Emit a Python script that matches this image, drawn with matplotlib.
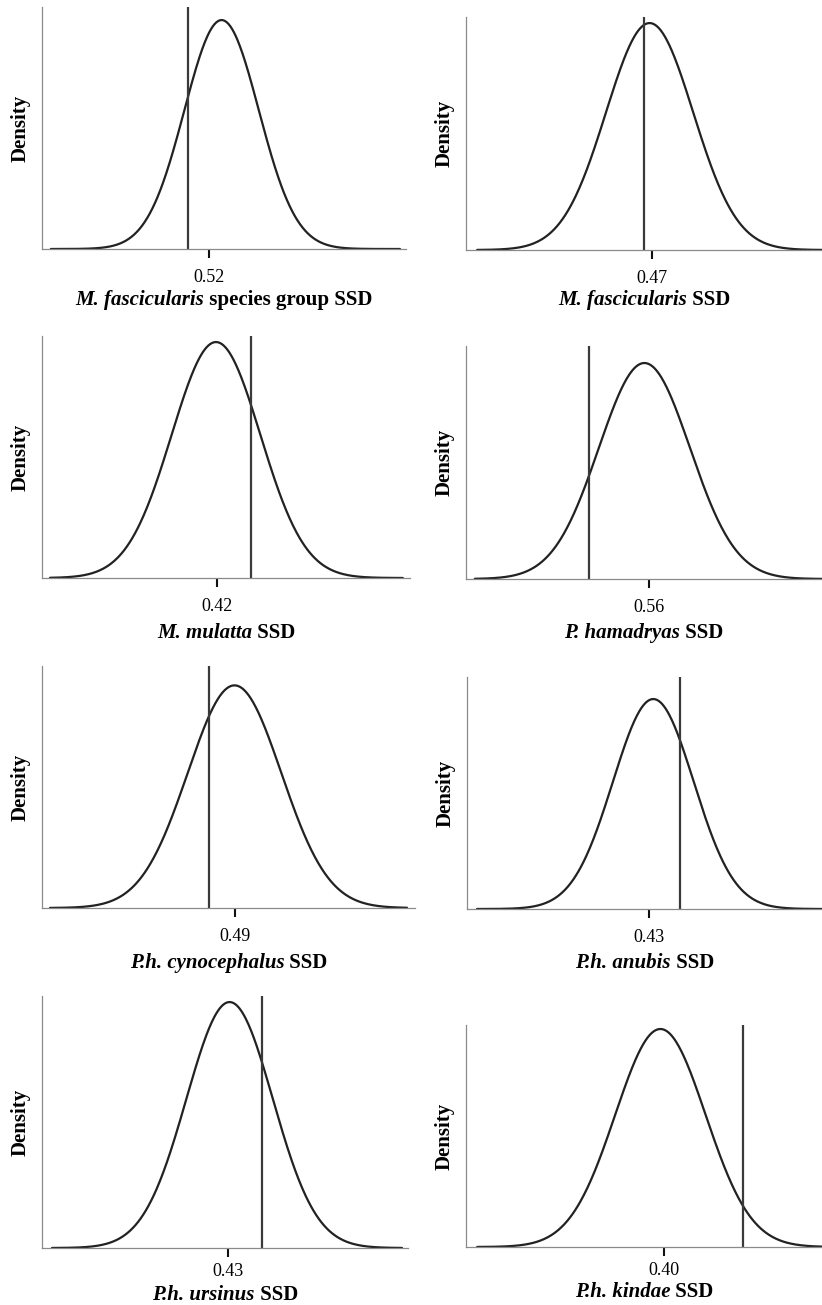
import numpy as np
import matplotlib
matplotlib.use("Agg")
import matplotlib.pyplot as plt

plt.rcParams["font.family"] = ["Liberation Serif", "DejaVu Serif"]

# simulated SSD distributions (normal approximations) and observed values
taxon_names = [
    "M. fascicularis", "M. fascicularis", "M. mulatta", "P. hamadryas",
    "P.h. cynocephalus", "P.h. anubis", "P.h. ursinus", "P.h. kindae",
]
label_suffix = [" species group SSD", " SSD", " SSD", " SSD", " SSD", " SSD", " SSD", " SSD"]
sim_mean = [0.5232, 0.4694, 0.4198, 0.5589, 0.4899, 0.4311, 0.4304, 0.3991]
sim_sd = [0.0093, 0.0109, 0.0111, 0.0114, 0.0117, 0.0101, 0.0108, 0.0113]
observed = [0.5148, 0.4680, 0.4285, 0.5450, 0.4836, 0.4379, 0.4384, 0.4198]
tick_vals = [0.52, 0.47, 0.42, 0.56, 0.49, 0.43, 0.43, 0.40]
curve_lo = [0.4805, 0.4263, 0.3783, 0.5165, 0.4438, 0.3870, 0.3860, 0.3533]
curve_hi = [0.5678, 0.5150, 0.4665, 0.6050, 0.5330, 0.4750, 0.4735, 0.4420]
x_lo = [0.4783, 0.4235, 0.3763, 0.5143, 0.4418, 0.3845, 0.3835, 0.3505]
x_hi = [0.5693, 0.5125, 0.4683, 0.6033, 0.5350, 0.4733, 0.4750, 0.4395]

# peak height as a fraction of the panel height
peak_frac = [0.946, 0.974, 0.975, 0.927, 0.92, 0.905, 0.976, 0.982]

# panel boxes in pixels: left, top, right, bottom
W, H = 822, 1305
boxes = [
    (42, 7, 406, 249), (466, 17, 822, 250),
    (42, 336, 410, 578), (466, 346, 822, 579),
    (42, 666, 415, 908), (467, 677, 822, 909),
    (42, 996, 408, 1248), (466, 1025, 822, 1247),
]
tick_pad = [8, 8, 8, 8, 8, 8, 4.5, 4.5]
xlabel_drop = [51, 50, 55, 54, 55, 54, 47, 45]

fig = plt.figure(figsize=(W / 100, H / 100), dpi=100)
renderer = fig.canvas.get_renderer()

for i, (l, t, r, b) in enumerate(boxes):
    ax = fig.add_axes([l / W, 1 - b / H, (r - l) / W, (b - t) / H])
    x = np.linspace(curve_lo[i], curve_hi[i], 400)
    y = np.exp(-0.5 * ((x - sim_mean[i]) / sim_sd[i]) ** 2) / (sim_sd[i] * np.sqrt(2 * np.pi))
    peak = 1 / (sim_sd[i] * np.sqrt(2 * np.pi))
    ax.plot(x, y, color="#222222", lw=1.6, solid_capstyle="round")
    ax.axvline(observed[i], color="#3a3a3a", lw=1.6)
    ax.set_xlim(x_lo[i], x_hi[i])
    ax.set_ylim(0, peak / peak_frac[i])

    for side in ("top", "right"):
        ax.spines[side].set_visible(False)
    for side in ("left", "bottom"):
        ax.spines[side].set_color("#8a8a8a")
        ax.spines[side].set_linewidth(0.9)

    ax.set_yticks([])
    ax.set_xticks([tick_vals[i]])
    ax.set_xticklabels([f"{tick_vals[i]:.2f}"])
    ax.tick_params(axis="x", direction="out", length=6.5, width=1.5, color="#111111",
                   pad=tick_pad[i], labelsize=13)
    ax.set_ylabel("Density", fontsize=15, fontweight="bold", labelpad=8)

    # x label: italic taxon name followed by upright text, centred under the panel
    ty = 1 - (b + xlabel_drop[i]) / H
    t1 = fig.text(0, ty, taxon_names[i], fontsize=15, fontweight="bold",
                  fontstyle="italic", va="center", ha="left")
    t2 = fig.text(0, ty, label_suffix[i], fontsize=15, fontweight="bold",
                  va="center", ha="left")
    w1 = t1.get_window_extent(renderer).width
    w2 = t2.get_window_extent(renderer).width
    x0 = (l + r) / 2 - (w1 + w2) / 2
    t1.set_x(x0 / W)
    t2.set_x((x0 + w1) / W)

fig.savefig("out.png", dpi=100)
